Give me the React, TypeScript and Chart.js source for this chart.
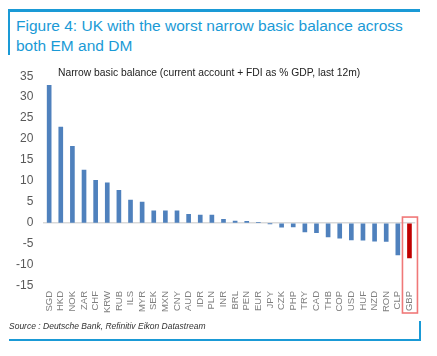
import React, { useEffect, useRef } from "react";
import { Chart, registerables } from "chart.js";

Chart.register(...registerables);

const categories = ["SGD","HKD","NOK","ZAR","CHF","KRW","RUB","ILS","MYR","SEK","MXN","CNY","AUD","IDR","PLN","INR","BRL","PEN","EUR","JPY","CZK","PHP","TRY","CAD","THB","COP","USD","HUF","NZD","RON","CLP","GBP"];
const values = [32.8,22.9,18.3,12.6,10.2,9.6,7.8,5.5,5.0,2.9,2.9,2.9,2.1,1.9,1.9,0.9,0.5,0.4,0.2,-0.1,-1.0,-0.9,-2.1,-2.3,-3.3,-3.6,-4.0,-4.1,-4.3,-4.4,-7.6,-8.3];
const highlight = "GBP";
const yMin = -15;
const yMax = 35;
const yStep = 5;

const title = "Figure 4: UK with the worst narrow basic balance across both EM and DM";
const subtitle = "Narrow basic balance (current account + FDI as % GDP, last 12m)";
const source = "Source : Deutsche Bank, Refinitiv Eikon Datastream";

const BLUE = "#1a9ad6";

const highlightBox = {
  id: "highlightBox",
  afterDatasetsDraw(chart: any) {
    const idx = categories.indexOf(highlight);
    const xs = chart.scales.x;
    const ys = chart.scales.y;
    const cx = xs.getPixelForValue(idx);
    const top = ys.getPixelForValue(0) - 6;
    const bottom = chart.chartArea.bottom + 27;
    const ctx = chart.ctx;
    ctx.save();
    ctx.strokeStyle = "#f07878";
    ctx.lineWidth = 1.6;
    ctx.strokeRect(cx - 7, top, 15, bottom - top);
    ctx.restore();
  },
};

export default function App() {
  const ref = useRef<HTMLCanvasElement>(null);
  useEffect(() => {
    if (!ref.current) return;
    const chart = new Chart(ref.current, {
      type: "bar",
      data: {
        labels: categories,
        datasets: [
          {
            data: values,
            backgroundColor: categories.map((c) => (c === highlight ? "#c00000" : "#4f81bd")),
            barThickness: 4,
          },
        ],
      },
      options: {
        animation: false,
        responsive: false,
        maintainAspectRatio: false,
        layout: { padding: { top: 6, right: 9, left: 0, bottom: 0 } },
        plugins: { legend: { display: false }, tooltip: { enabled: false } },
        scales: {
          x: {
            offset: true,
            grid: { display: false, drawTicks: false },
            border: { display: false },
            afterFit: (s: any) => {
              s.height = 36;
            },
            ticks: {
              autoSkip: false,
              maxRotation: 90,
              minRotation: 90,
              color: "#7f7f7f",
              font: { family: "Liberation Sans", size: 9.5 },
              padding: 5,
            },
          },
          y: {
            min: yMin,
            max: yMax,
            border: { display: false },
            grid: {
              drawTicks: false,
              color: (c: any) => (c.tick && c.tick.value === 0 ? "#d9d9d9" : "rgba(0,0,0,0)"),
              lineWidth: 1.5,
            },
            ticks: {
              stepSize: yStep,
              color: "#595959",
              font: { family: "Liberation Sans", size: 12 },
              padding: 10,
            },
          },
        },
      },
      plugins: [highlightBox],
    });
    return () => chart.destroy();
  }, []);

  return (
    <div style={{ position: "fixed", left: 0, top: 0, width: 437, height: 356, background: "#fff", overflow: "hidden" }}>
      <div style={{ position: "absolute", left: 8, top: 9, width: 412, height: 3, background: BLUE }} />
      <div style={{ position: "absolute", left: 8, top: 9, width: 2, height: 46, background: BLUE }} />
      <div
        style={{
          position: "absolute",
          left: 16,
          top: 16,
          width: 400,
          color: BLUE,
          fontFamily: "Liberation Sans",
          fontSize: 15.5,
          lineHeight: "20px",
        }}
      >
        {title}
      </div>
      <canvas ref={ref} width={420} height={263} style={{ position: "absolute", left: 6, top: 59 }} />
      <div
        style={{
          position: "absolute",
          left: 58,
          top: 67,
          color: "#222",
          fontFamily: "Liberation Sans",
          fontSize: 10.3,
          whiteSpace: "nowrap",
        }}
      >
        {subtitle}
      </div>
      <div
        style={{
          position: "absolute",
          left: 9,
          top: 321,
          color: "#333",
          fontFamily: "Liberation Sans",
          fontStyle: "italic",
          fontSize: 8.5,
          whiteSpace: "nowrap",
        }}
      >
        {source}
      </div>
      <div style={{ position: "absolute", left: 9, top: 339, width: 412, height: 2, background: BLUE }} />
      <div style={{ position: "absolute", left: 419, top: 321, width: 2, height: 20, background: BLUE }} />
    </div>
  );
}
